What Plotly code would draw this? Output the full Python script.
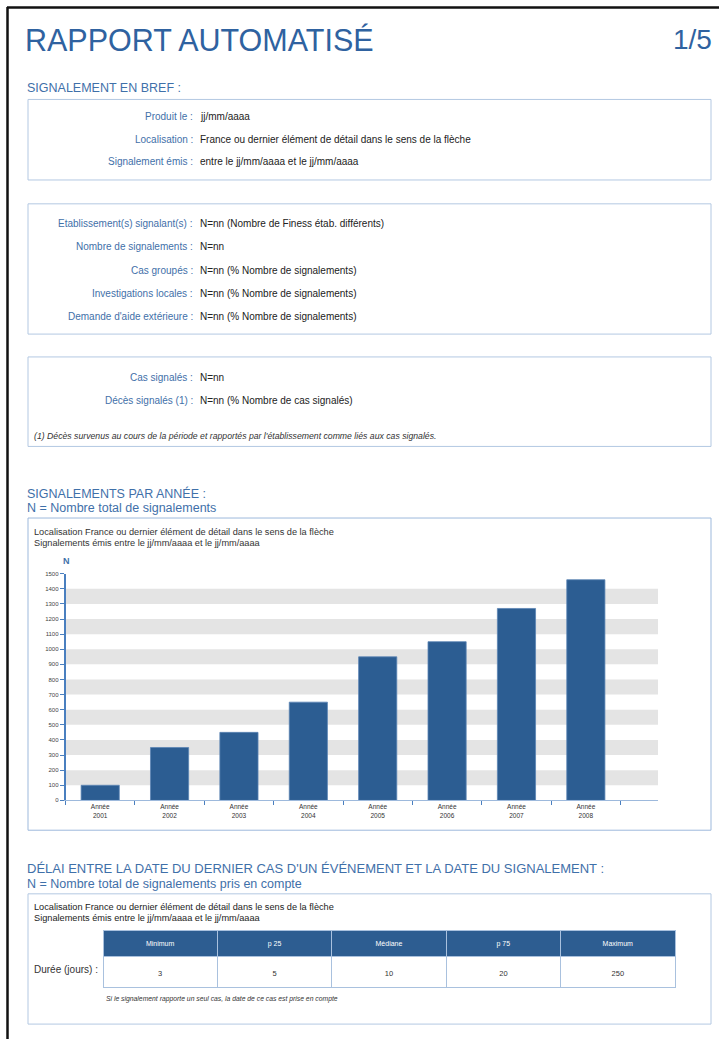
import plotly.graph_objects as go

# ---------------- data ----------------
years = ["2001", "2002", "2003", "2004", "2005", "2006", "2007", "2008"]
counts = [100, 350, 450, 650, 950, 1050, 1270, 1460]
y_ticks = list(range(0, 1501, 100))

stat_names = ["Minimum", "p 25", "Médiane", "p 75", "Maximum"]
stat_values = ["3", "5", "10", "20", "250"]

brief_labels = ["Produit le :", "Localisation :", "Signalement émis :"]
brief_values = ["jj/mm/aaaa",
                "France ou dernier élément de détail dans le sens de la flèche",
                "entre le jj/mm/aaaa et le jj/mm/aaaa"]
estab_labels = ["Etablissement(s) signalant(s) :", "Nombre de signalements :",
                "Cas groupés :", "Investigations locales :",
                "Demande d'aide extérieure :"]
estab_values = ["N=nn (Nombre de Finess étab. différents)", "N=nn",
                "N=nn (% Nombre de signalements)",
                "N=nn (% Nombre de signalements)",
                "N=nn (% Nombre de signalements)"]
cas_labels = ["Cas signalés :", "Décès signalés (1) :"]
cas_values = ["N=nn", "N=nn (% Nombre de cas signalés)"]

# ---------------- helpers ----------------
W, H = 719, 1042
FONT = "Liberation Sans, Arial, sans-serif"
BLUE = "#2f62a0"
LBLUE = "#3f70a9"
BAR = "#2c5d92"
BOX = "#b3c8e2"


def X(px):
    return px / W


def Y(py):
    return 1 - py / H


fig = go.Figure()

fig.add_trace(go.Bar(
    x=[f"Année<br>{y}" for y in years], y=counts,
    marker=dict(color=BAR, line=dict(color="#5a84b4", width=0.8)),
    width=0.55, hoverinfo="skip", showlegend=False))

shapes = []
ann = []


def text(px, py, s, size=9, color="#222", anchor="left", italic=False, bold=False):
    if bold:
        s = f"<b>{s}</b>"
    if italic:
        s = f"<i>{s}</i>"
    ann.append(dict(x=X(px), y=Y(py), xref="paper", yref="paper", text=s,
                    showarrow=False, xanchor=anchor, yanchor="middle",
                    font=dict(family=FONT, size=size, color=color)))


def box(x0, y0, x1, y1, color=BOX, width=1):
    shapes.append(dict(type="rect", xref="paper", yref="paper",
                       x0=X(x0), x1=X(x1), y0=Y(y0), y1=Y(y1),
                       line=dict(color=color, width=width), fillcolor="rgba(0,0,0,0)"))


# page frame
shapes.append(dict(type="line", xref="paper", yref="paper", x0=X(7), x1=X(719), y0=Y(4.5), y1=Y(4.5),
                   line=dict(color="#111", width=2.5)))
shapes.append(dict(type="line", xref="paper", yref="paper", x0=X(7.5), x1=X(7.5), y0=Y(4), y1=Y(1042),
                   line=dict(color="#111", width=2.5)))

# title
text(23, 37, "RAPPORT AUTOMATISÉ", size=30.5, color=BLUE)
text(714, 37, "1/5", size=28, color=BLUE, anchor="right")

LAB = 10
# section 1
text(25, 85, "SIGNALEMENT EN BREF :", size=12.5, color=LBLUE)
box(28, 97, 711, 178)
for i, (l, v) in enumerate(zip(brief_labels, brief_values)):
    yy = 114 + i * 22.8
    text(195, yy, l, size=LAB, color=LBLUE, anchor="right")
    text(198, yy, v, size=LAB, color="#222")

box(28, 202, 711, 333)
for i, (l, v) in enumerate(zip(estab_labels, estab_values)):
    yy = 222 + i * 23.3
    text(195, yy, l, size=LAB, color=LBLUE, anchor="right")
    text(198, yy, v, size=LAB, color="#222")

box(28, 356, 711, 446)
for i, (l, v) in enumerate(zip(cas_labels, cas_values)):
    yy = 377 + i * 23
    text(195, yy, l, size=LAB, color=LBLUE, anchor="right")
    text(198, yy, v, size=LAB, color="#222")
text(32, 436, "(1) Décès survenus au cours de la période et rapportés par l'établissement comme liés aux cas signalés.",
     size=8.7, color="#333", italic=True)

# section 2 : chart
text(25, 493, "SIGNALEMENTS PAR ANNÉE :", size=12.5, color=LBLUE)
text(25, 508, "N = Nombre total de signalements", size=12.5, color=LBLUE)
box(28, 518, 711, 832, color="#9db9dc")
text(32, 532, "Localisation France ou dernier élément de détail dans le sens de la flèche", size=9.2, color="#333")
text(32, 543, "Signalements émis entre le jj/mm/aaaa et le jj/mm/aaaa", size=9.2, color="#333")
text(66, 561, "N", size=9, color=LBLUE, anchor="center", bold=True)

# alternating bands
for k in range(1, len(y_ticks) - 1, 2):
    shapes.append(dict(type="rect", xref="x domain", yref="y", x0=0, x1=1,
                       y0=y_ticks[k], y1=y_ticks[k + 1], fillcolor="#e4e4e4",
                       line=dict(width=0), layer="below"))

# section 3 : table
text(25, 871, "DÉLAI ENTRE LA DATE DU DERNIER CAS D'UN ÉVÉNEMENT ET LA DATE DU SIGNALEMENT :", size=13, color=LBLUE)
text(25, 886, "N = Nombre total de signalements pris en compte", size=12.5, color=LBLUE)
box(28, 896, 711, 1027)
text(32, 909, "Localisation France ou dernier élément de détail dans le sens de la flèche", size=9.2, color="#222")
text(32, 920, "Signalements émis entre le jj/mm/aaaa et le jj/mm/aaaa", size=9.2, color="#222")
text(100, 972, "Durée (jours) :", size=10, color="#333", anchor="right")
text(104, 1002, "Si le signalement rapporte un seul cas, la date de ce cas est prise en compte",
     size=6.8, color="#333", italic=True)

fig.add_trace(go.Table(
    domain=dict(x=[X(103), X(675)], y=[Y(995), Y(933)]),
    header=dict(values=[f"&nbsp;<br><span style='font-size:7px'>{s}</span>" for s in stat_names],
                fill_color="#2d5d91", height=24,
                line=dict(color="#a9c1de", width=1), align="center",
                font=dict(family=FONT, size=3.5, color="white")),
    cells=dict(values=[[f"&nbsp;<br><span style='font-size:7.5px'>{v}</span>"] for v in stat_values],
               fill_color="white", height=31,
               line=dict(color="#a9c1de", width=1), align="center",
               font=dict(family=FONT, size=5, color="#333"))))

fig.update_layout(
    width=W, height=H, margin=dict(l=0, r=0, t=0, b=0),
    paper_bgcolor="white", plot_bgcolor="white",
    shapes=shapes, annotations=ann, showlegend=False,
    xaxis=dict(domain=[X(65.5), X(658)], range=[-0.5, 8.04], type="category",
               tickson="boundaries", ticks="outside", ticklen=4, tickcolor="#4a7fbf",
               showline=True, linecolor="#9db9dc", linewidth=1.2, showgrid=False,
               tickfont=dict(family=FONT, size=6.5, color="#333"), fixedrange=True),
    yaxis=dict(domain=[Y(802), Y(574)], range=[0, 1500], tickvals=y_ticks,
               ticks="outside", ticklen=4, tickcolor="#4a7fbf",
               showline=True, linecolor="#4a7fbf", linewidth=1.5, showgrid=False,
               zeroline=False, tickfont=dict(family=FONT, size=6, color="#444"),
               fixedrange=True),
)

fig.write_html("out.html", config=dict(displayModeBar=False),
               post_script="document.body.style.margin='0';document.body.style.overflow='hidden';")
